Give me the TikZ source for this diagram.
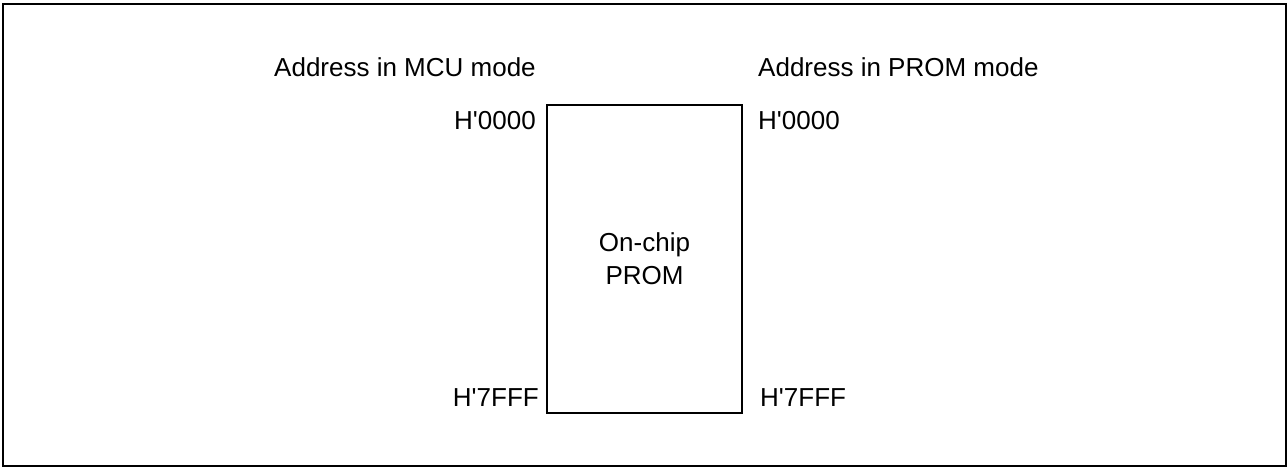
\documentclass[tikz,border=0pt]{standalone}
\usepackage{fontspec}
\setmainfont{Liberation Sans}
\usetikzlibrary{positioning}

\newcommand{\addr}[1]{H\textquotesingle#1}

\tikzset{
  lbl/.style={inner sep=0pt,font=\fontsize{26}{33}\selectfont},
  membox/.style={draw,line width=2pt,minimum width=195pt,minimum height=308pt,
    align=center,font=\fontsize{26}{33}\selectfont}
}

\begin{document}
\begin{tikzpicture}[x=1pt,y=1pt]
  \useasboundingbox (0,0) rectangle (1288,468);
  \draw[line width=2pt] (3,2) rectangle (1286,464);
  % memory block
  \node[membox] (prom) at (644.5,209) {On-chip\\PROM};
  % column headings
  \node[lbl,anchor=base west] (mcuhead) at (274,391) {Address in MCU mode};
  \node[lbl,anchor=base west] (promhead) at (758,391) {Address in PROM mode};
  % addresses
  \node[lbl,anchor=base east] (mcutop) at (536,338) {\addr{0000}};
  \node[lbl,anchor=base west] (promtop) at (758,338) {\addr{0000}};
  \node[lbl,anchor=base east] (mcubot) at (539,61) {\addr{7FFF}};
  \node[lbl,anchor=base west] (prombot) at (760,61) {\addr{7FFF}};
\end{tikzpicture}
\end{document}
